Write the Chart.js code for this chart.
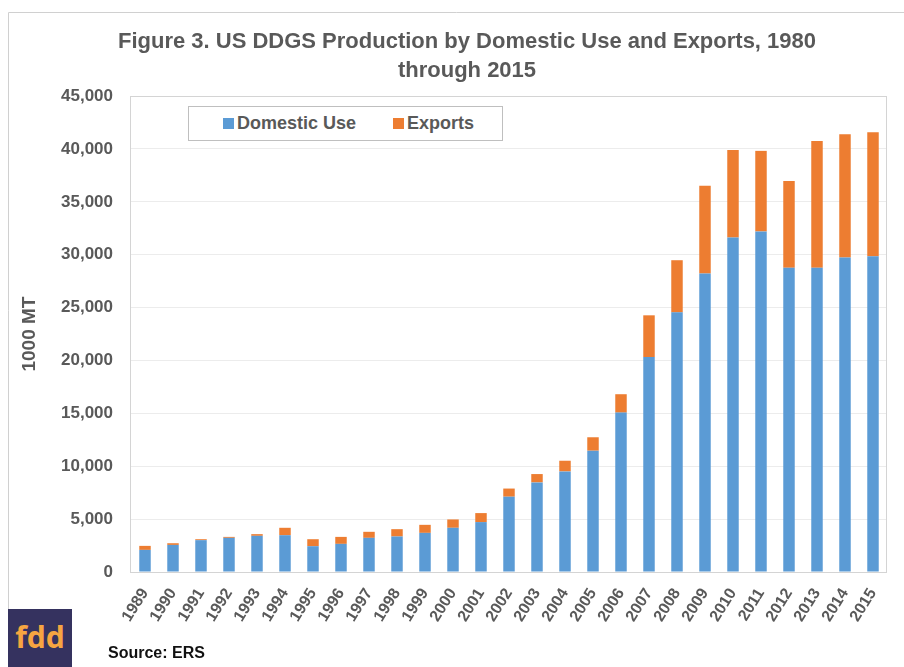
<!DOCTYPE html>
<html>
<head>
<meta charset="utf-8">
<script src="https://cdn.jsdelivr.net/npm/chart.js@4"></script>
<style>
  html, body { margin: 0; padding: 0; background: #fff; }
  #wrap { position: relative; width: 904px; height: 667px; overflow: hidden; font-family: "Liberation Sans", Arial, sans-serif; }
  #c { position: absolute; left: 0; top: 0; }
  #legend { position: absolute; left: 188px; top: 106px; width: 313px; height: 33px; border: 1px solid #bfbfbf; background: #fff; }
  .li { position: absolute; top: 0; height: 33px; line-height: 33px; font-weight: bold; font-size: 18px; color: #595959; white-space: nowrap; }
  .sw { display: inline-block; width: 11px; height: 11px; margin-right: 3px; vertical-align: 0px; }
  #source { position: absolute; left: 108px; top: 644px; font-weight: bold; font-size: 16px; color: #111; }
  #logo { position: absolute; left: 8px; top: 609px; width: 64px; height: 58px; background: #35325f; color: #f6a541; font-family: "Noto Sans", "Open Sans", sans-serif; font-weight: bold; font-size: 30px; text-align: center; line-height: 56px; }
</style>
</head>
<body>
<div id="wrap">
  <canvas id="c" width="904" height="667"></canvas>
  <div id="legend"></div>
  <div id="source">Source: ERS</div>
  <div id="logo">fdd</div>
</div>
<script>
const years = ["1989","1990","1991","1992","1993","1994","1995","1996","1997","1998","1999","2000","2001","2002","2003","2004","2005","2006","2007","2008","2009","2010","2011","2012","2013","2014","2015"];
const domesticUse = [2090, 2560, 3010, 3230, 3420, 3480, 2440, 2660, 3230, 3360, 3700, 4180, 4720, 7120, 8470, 9510, 11470, 15070, 20320, 24550, 28220, 31630, 32200, 28760, 28760, 29740, 29860];
const exportsData = [380, 160, 90, 90, 160, 700, 660, 660, 570, 690, 760, 790, 850, 770, 790, 1010, 1270, 1740, 3950, 4930, 8310, 8280, 7620, 8210, 12000, 11660, 11730];
const seriesNames = ["Domestic Use", "Exports"];
const seriesColors = ["#5b9bd5", "#ed7d31"];
const titleLines = ["Figure 3. US DDGS Production by Domestic Use and Exports, 1980", "through 2015"];
const yAxisTitle = "1000 MT";
const yMin = 0, yMax = 45000, yStep = 5000;

// HTML legend built from series names
const legendEl = document.getElementById('legend');
const legendX = [34, 204];
seriesNames.forEach((n, i) => {
  const d = document.createElement('div');
  d.className = 'li';
  d.style.left = legendX[i] + 'px';
  d.innerHTML = '<span class="sw" style="background:' + seriesColors[i] + '"></span>' + n;
  legendEl.appendChild(d);
});

const frame = {
  id: 'frame',
  beforeDraw(chart) {
    const ctx = chart.ctx;
    ctx.save();
    ctx.strokeStyle = '#d0d0d0';
    ctx.lineWidth = 1;
    ctx.beginPath();
    ctx.moveTo(8.5, 609);
    ctx.lineTo(8.5, 12.5);
    ctx.lineTo(904, 12.5);
    ctx.stroke();
    ctx.restore();
  },
  afterDatasetsDraw(chart) {
    const a = chart.chartArea;
    const ctx = chart.ctx;
    ctx.save();
    ctx.strokeStyle = '#d4d4d4';
    ctx.lineWidth = 1;
    ctx.strokeRect(Math.round(a.left) - 0.5, Math.round(a.top) + 0.5, Math.round(a.right - a.left), Math.round(a.bottom - a.top));
    ctx.restore();
  }
};

const font = "'Liberation Sans', Arial, sans-serif";
new Chart(document.getElementById('c'), {
  type: 'bar',
  data: {
    labels: years,
    datasets: [
      { label: seriesNames[0], data: domesticUse, backgroundColor: seriesColors[0], borderWidth: 0 },
      { label: seriesNames[1], data: exportsData, backgroundColor: seriesColors[1], borderWidth: 0 }
    ]
  },
  options: {
    responsive: false,
    animation: false,
    devicePixelRatio: 1,
    layout: { padding: { left: 47, right: 17, top: 0, bottom: 0 } },
    datasets: { bar: { barPercentage: 0.41, categoryPercentage: 1.0 } },
    plugins: {
      legend: { display: false },
      tooltip: { enabled: false },
      title: {
        display: true,
        text: titleLines,
        color: '#595959',
        font: { family: font, size: 22, weight: 'bold', lineHeight: 1.32 },
        padding: { top: 27, bottom: 11 }
      }
    },
    scales: {
      x: {
        stacked: true,
        grid: { display: false, drawTicks: false },
        border: { display: false },
        ticks: {
          color: '#595959',
          font: { family: font, size: 16, weight: 'bold' },
          minRotation: 58, maxRotation: 58,
          padding: 13,
          autoSkip: false
        },
        afterFit(scale) { scale.height = 95; }
      },
      y: {
        stacked: true,
        min: yMin, max: yMax,
        grid: { color: '#ececec', drawTicks: false },
        border: { display: false },
        ticks: {
          stepSize: yStep,
          color: '#595959',
          padding: 18,
          font: { family: font, size: 17, weight: 'bold' },
          callback: v => v.toLocaleString('en-US')
        },
        title: {
          display: true,
          text: yAxisTitle,
          color: '#595959',
          font: { family: font, size: 19, weight: 'bold' },
          padding: { top: -29, bottom: 0 }
        },
        afterFit(scale) { scale.width = 84; }
      }
    }
  },
  plugins: [frame]
});
</script>
</body>
</html>
